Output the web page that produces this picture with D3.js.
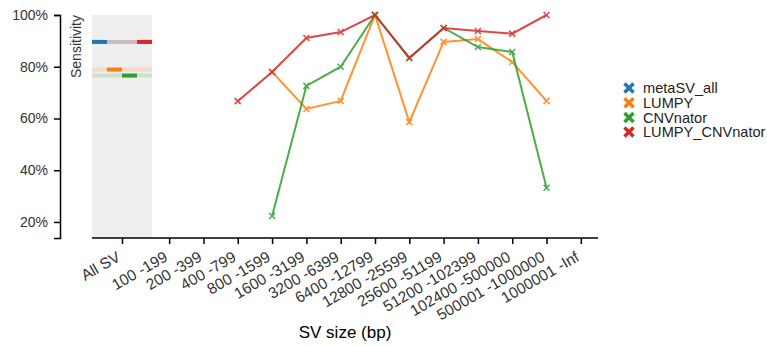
<!DOCTYPE html>
<html>
<head>
<meta charset="UTF-8">
<title>Sensitivity by SV size</title>
<style>
    body { margin: 0; background: #fff; }
    svg { font-family: "Liberation Sans", Arial, sans-serif; }
</style>
</head>
<body>
<script src="https://cdn.jsdelivr.net/npm/d3@7"></script>
<script>
    // categories de taille
    const categories = ["All SV", "100 -199", "200 -399", "400 -799", "800 -1599", "1600 -3199",
        "3200 -6399", "6400 -12799", "12800 -25599", "25600 -51199", "51200 -102399",
        "102400 -500000", "500001 -1000000", "1000001 -Inf"];
    const seriesNames = ["metaSV_all", "LUMPY", "CNVnator", "LUMPY_CNVnator"];
    const yTicks = [0.2, 0.4, 0.6, 0.8, 1.0];

    // valeurs globales (All SV)
    const overall = [0.896, 0.789, 0.766, 0.896];

    // valeurs par taille (100-199 ... 1000001-Inf)
    const metaSVAll = [null, null, null, null, null, null, null, null, null, null, null, null, null];
    const lumpy = [null, null, null, 0.78, 0.637, 0.668, 1.0, 0.586, 0.896, 0.907, 0.818, 0.668, null];
    const cnvnator = [null, null, null, 0.223, 0.726, 0.80, 1.0, 0.834, 0.95, 0.876, 0.857, 0.332, null];
    const lumpyCnvnator = [null, null, 0.667, 0.78, 0.911, 0.934, 1.0, 0.834, 0.95, 0.938, 0.928, 1.0, null];

    const seriesValues = [metaSVAll, lumpy, cnvnator, lumpyCnvnator];
    const couleurs = ["#1f77b4", "#ff7f0e", "#2ca02c", "#d62728"];

    const width = 767, height = 346;
    const margeG = 60, haut = 15, bas = 238;
    const allLeft = 92, allRight = 152, droite = 598;

    const svg = d3.select("body").append("svg")
        .attr("width", width)
        .attr("height", height);

    // echelles
    const y = d3.scaleLinear().domain([0.138, 1]).range([bas, haut]);
    const xAll = d3.scaleBand().domain([categories[0]]).range([allLeft, allRight]);
    const xBins = d3.scaleBand().domain(categories.slice(1)).range([allRight, droite]);
    const xSlot = d3.scaleBand().domain(seriesNames).range([0, xAll.bandwidth()]);
    const xPos = c => c === categories[0] ? xAll(c) + xAll.bandwidth() / 2 : xBins(c) + xBins.bandwidth() / 2;

    // panneau All SV
    svg.append("rect")
        .attr("x", xAll(categories[0]))
        .attr("y", haut)
        .attr("width", xAll.bandwidth())
        .attr("height", bas - haut)
        .attr("fill", "#efefef");

    const allG = svg.append("g");
    allG.selectAll("line.faint")
        .data(overall)
        .enter().append("line")
        .attr("class", "faint")
        .attr("x1", xAll(categories[0]))
        .attr("x2", xAll(categories[0]) + xAll.bandwidth())
        .attr("y1", d => y(d))
        .attr("y2", d => y(d))
        .attr("stroke", (d, i) => couleurs[i])
        .attr("stroke-opacity", 0.18)
        .attr("stroke-width", 4);
    allG.selectAll("line.solid")
        .data(overall)
        .enter().append("line")
        .attr("class", "solid")
        .attr("x1", (d, i) => xAll(categories[0]) + xSlot(seriesNames[i]))
        .attr("x2", (d, i) => xAll(categories[0]) + xSlot(seriesNames[i]) + xSlot.bandwidth())
        .attr("y1", d => y(d))
        .attr("y2", d => y(d))
        .attr("stroke", (d, i) => couleurs[i])
        .attr("stroke-width", 4);

    // axes
    const yAxis = d3.axisLeft(y)
        .tickValues(yTicks)
        .tickFormat(d3.format(".0%"))
        .tickSize(6)
        .tickPadding(6);
    const yG = svg.append("g")
        .attr("transform", `translate(${margeG},0)`)
        .call(yAxis);
    yG.selectAll("text").style("font-size", "14px").attr("fill", "#333");
    yG.selectAll("path, line").attr("stroke", "#000").attr("stroke-width", 1.5);

    const xScaleAxis = d3.scaleOrdinal()
        .domain(categories)
        .range(categories.map(xPos));
    const xAxis = d3.axisBottom(xScaleAxis).tickSize(6).tickSizeOuter(0);
    const xG = svg.append("g")
        .attr("transform", `translate(0,${bas})`)
        .call(xAxis);
    xG.select(".domain").attr("d", `M${allLeft},0H${droite}`);
    xG.selectAll("path, line").attr("stroke", "#000").attr("stroke-width", 1.5);
    xG.selectAll("text")
        .attr("y", 0).attr("dy", 0)
        .attr("text-anchor", "end")
        .attr("transform", "translate(-1,22) rotate(-30)")
        .style("font-size", "15.5px")
        .attr("fill", "#333");

    // titres
    svg.append("text")
        .attr("transform", `translate(81,${haut}) rotate(-90)`)
        .attr("text-anchor", "end")
        .style("font-size", "14px")
        .attr("fill", "#333")
        .text("Sensitivity");
    svg.append("text")
        .attr("x", (allLeft + droite) / 2)
        .attr("y", 338)
        .attr("text-anchor", "middle")
        .style("font-size", "17px")
        .attr("fill", "#000")
        .text("SV size (bp)");

    // lignes
    const bins = categories.slice(1);
    const ligne = d3.line()
        .defined(d => d.v != null)
        .x(d => xBins(d.c) + xBins.bandwidth() / 2)
        .y(d => y(d.v));

    const croix = "M-3,-3L3,3M-3,3L3,-3";
    seriesValues.forEach((vals, i) => {
        const pts = vals.map((v, j) => ({ c: bins[j], v: v }));
        const g = svg.append("g").attr("opacity", 0.85);
        g.append("path")
            .datum(pts)
            .attr("d", ligne)
            .attr("fill", "none")
            .attr("stroke", couleurs[i])
            .attr("stroke-width", 2);
        g.selectAll("path.m")
            .data(pts.filter(d => d.v != null))
            .enter().append("path")
            .attr("class", "m")
            .attr("d", croix)
            .attr("transform", d => `translate(${xBins(d.c) + xBins.bandwidth() / 2},${y(d.v)})`)
            .attr("stroke", couleurs[i])
            .attr("stroke-width", 1.5)
            .attr("fill", "none");
    });

    // legende
    const legende = svg.append("g").attr("transform", "translate(629,88)");
    const items = legende.selectAll("g")
        .data(seriesNames)
        .enter().append("g")
        .attr("transform", (d, i) => `translate(0,${i * 14.7})`);
    items.append("path")
        .attr("d", "M-4.5,-4.5L4.5,4.5M-4.5,4.5L4.5,-4.5")
        .attr("stroke", (d, i) => couleurs[i])
        .attr("stroke-width", 3.5);
    items.append("text")
        .attr("x", 14)
        .attr("dy", "0.35em")
        .style("font-size", "14.6px")
        .attr("fill", "#222")
        .text(d => d);
</script>
</body>
</html>
